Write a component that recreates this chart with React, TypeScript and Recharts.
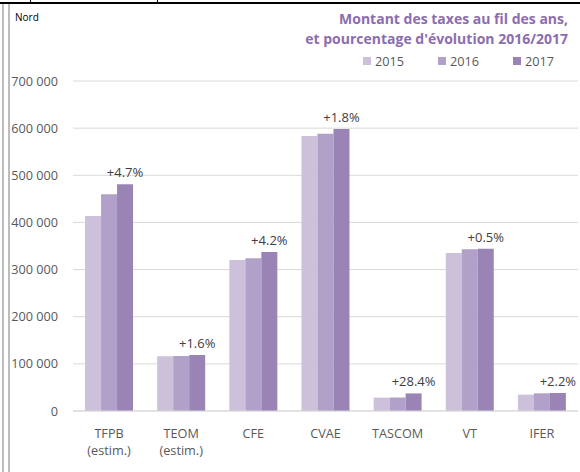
import React from "react";
import { BarChart, Bar, XAxis, YAxis, CartesianGrid, LabelList } from "recharts";

const categories = ["TFPB\n(estim.)", "TEOM\n(estim.)", "CFE", "CVAE", "TASCOM", "VT", "IFER"];
const values2015 = [413700, 116000, 320300, 583400, 28300, 335200, 34600];
const values2016 = [459700, 116700, 323900, 588300, 28600, 343000, 37500];
const values2017 = [480900, 118800, 337300, 598200, 37300, 344300, 38200];
const pctLabels = ["+4.7%", "+1.6%", "+4.2%", "+1.8%", "+28.4%", "+0.5%", "+2.2%"];
const yTicks = [0, 100000, 200000, 300000, 400000, 500000, 600000, 700000];
const seriesNames = ["2015", "2016", "2017"];
const seriesColors = ["#cdc0da", "#b1a1c9", "#9a84b6"];
const titleLines = ["Montant des taxes au fil des ans,", "et pourcentage d'évolution 2016/2017"];
const cornerLabel = "Nord";

const data = categories.map((c, i) => ({
  cat: c,
  v2015: values2015[i],
  v2016: values2016[i],
  v2017: values2017[i],
  pct: pctLabels[i],
}));

const FONT = "'Open Sans', sans-serif";
const W = 580;
const H = 472;

const fmt = (v: number) => {
  const s = Math.round(v).toString();
  return s.replace(/\B(?=(\d{3})+(?!\d))/g, " ");
};

const XTick = (props: any) => {
  const { x, y, payload } = props;
  const lines = String(payload.value).split("\n");
  return (
    <text x={x} y={y} textAnchor="middle" fill="#595959" fontSize={12.7} fontFamily={FONT}>
      {lines.map((l, i) => (
        <tspan key={i} x={x} dy={i === 0 ? 26.5 : 17}>
          {l}
        </tspan>
      ))}
    </text>
  );
};

const PctLabel = (props: any) => {
  const { x, y, width, index } = props;
  let cx = x + width / 2;
  const half = pctLabels[index].length * 3.7;
  if (cx + half > W - 2) cx = W - 2 - half;
  return (
    <text x={cx} y={y - 7} textAnchor="middle" fill="#404040" fontSize={13} fontFamily={FONT}>
      {pctLabels[index]}
    </text>
  );
};

export default function App() {
  return (
    <div style={{ position: "absolute", left: 0, top: 0, width: W, height: H, background: "#fff", fontFamily: FONT }}>
      <div style={{ position: "absolute", left: 0, top: 2, width: W, height: 2, background: "#000" }} />
      <div style={{ position: "absolute", left: 30, top: 0, width: 1, height: 3, background: "#000" }} />
      <div style={{ position: "absolute", left: 157, top: 0, width: 1, height: 3, background: "#000" }} />
      <div style={{ position: "absolute", left: 2, top: 4, width: 1.5, height: H - 4, background: "#bdbdbd" }} />
      <div style={{ position: "absolute", left: 8, top: 4, width: 1.5, height: H - 4, background: "#bdbdbd" }} />
      <div style={{ position: "absolute", left: 15, top: 10, fontSize: 10, color: "#000", lineHeight: "14px" }}>{cornerLabel}</div>
      <div
        style={{
          position: "absolute",
          right: 12,
          top: 9,
          textAlign: "right",
          fontSize: 14,
          fontWeight: 700,
          color: "#8c6daf",
          lineHeight: "20px",
          whiteSpace: "nowrap",
        }}
      >
        {titleLines.map((t, i) => (
          <div key={i}>{t}</div>
        ))}
      </div>
      <div style={{ position: "absolute", left: 363, top: 52, display: "flex", fontSize: 12.7, color: "#595959", lineHeight: "18px" }}>
        {seriesNames.map((n, i) => (
          <div key={n} style={{ display: "flex", alignItems: "center", width: i < 2 ? 75 : 45 }}>
            <div style={{ width: 8, height: 8, background: seriesColors[i], marginRight: 4 }} />
            <span>{n}</span>
          </div>
        ))}
      </div>
      <div style={{ position: "absolute", left: 0, top: 0 }}>
        <BarChart
          width={W}
          height={H}
          data={data}
          margin={{ top: 81, right: 2, bottom: 11, left: 0 }}
          barCategoryGap="16.7%"
          barGap={0}
        >
          <CartesianGrid horizontal vertical={false} stroke="#d9d9d9" />
          <XAxis
            dataKey="cat"
            axisLine={{ stroke: "#d9d9d9" }}
            tickLine={false}
            tickSize={0}
            tickMargin={0}
            height={50}
            interval={0}
            tick={<XTick />}
          />
          <YAxis
            domain={[0, 700000]}
            ticks={yTicks}
            axisLine={false}
            tickLine={false}
            tickSize={0}
            tickMargin={15}
            width={73}
            tickFormatter={fmt}
            tick={{ fill: "#595959", fontSize: 12.7, fontFamily: FONT }}
          />
          <Bar dataKey="v2015" fill={seriesColors[0]} isAnimationActive={false} />
          <Bar dataKey="v2016" fill={seriesColors[1]} isAnimationActive={false} />
          <Bar dataKey="v2017" fill={seriesColors[2]} isAnimationActive={false}>
            <LabelList dataKey="pct" content={<PctLabel />} />
          </Bar>
        </BarChart>
      </div>
    </div>
  );
}
